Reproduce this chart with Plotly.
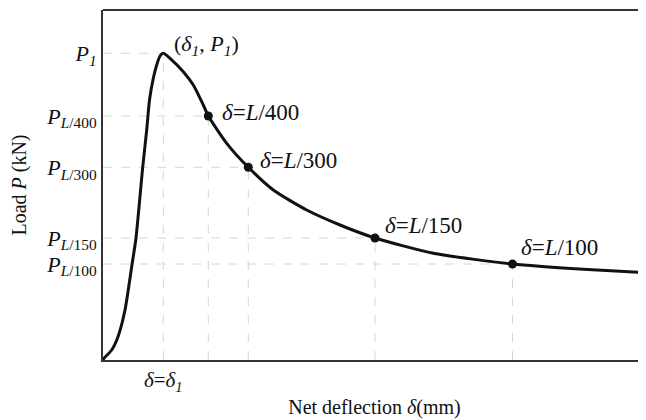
import plotly.graph_objects as go

# Load-deflection curve (schematic), deflection in mm, load in kN
curve_delta = [0, 0.1, 0.87, 1.5, 2.2, 2.87, 3.3, 3.97, 4.37, 4.65, 5.03, 5.37, 5.7, 6.03,
               6.7, 8.03, 9.03, 10.03, 10.53, 12.37, 14.53, 17.03, 20.37, 23.7, 27.2,
               33.03, 40.95, 48.03, 54.3]
curve_P = [0, 0.17, 1.0, 2.33, 5.0, 9.33, 12.2, 19.27, 23.0, 26.0, 28.17, 29.5, 30.4, 30.67,
           30.17, 28.83, 27.5, 25.5, 24.4, 21.67, 19.27, 17.0, 15.0, 13.5, 12.2,
           10.67, 9.6, 9.07, 8.73]

# Peak
delta_1 = 6.03
P_1 = 30.67

# Serviceability points
point_names = ["L/400", "L/300", "L/150", "L/100"]
point_delta = [10.53, 14.53, 27.2, 40.95]
point_P = [24.4, 19.27, 12.2, 9.6]

x_max = 54.3
y_max = 35.0

SERIF = "Liberation Serif"
grid_col = "#d6d6d6"
ink = "#111111"

fig = go.Figure()

# dashed guide lines
for d, p in zip([delta_1] + point_delta, [P_1] + point_P):
    fig.add_trace(go.Scatter(x=[0, d], y=[p, p], mode="lines",
                             line=dict(color=grid_col, width=1, dash="dash"),
                             hoverinfo="skip", showlegend=False))
    fig.add_trace(go.Scatter(x=[d, d], y=[0, p], mode="lines",
                             line=dict(color=grid_col, width=1, dash="dash"),
                             hoverinfo="skip", showlegend=False))

# main curve
fig.add_trace(go.Scatter(x=curve_delta, y=curve_P, mode="lines",
                         line=dict(color=ink, width=3, shape="spline", smoothing=0.6),
                         showlegend=False))

# markers
fig.add_trace(go.Scatter(x=point_delta, y=point_P, mode="markers",
                         marker=dict(color=ink, size=9),
                         showlegend=False))

# annotations
fig.add_annotation(x=6.9, y=31.5, xanchor="left", yanchor="middle", showarrow=False,
                   text="(<i>δ</i><sub><i>1</i></sub>, <i>P</i><sub><i>1</i></sub>)",
                   font=dict(family=SERIF, size=22, color=ink))
label_x = [11.7, 15.5, 28.0, 41.6]
label_y = [24.75, 19.95, 13.5, 11.3]
for name, lx, ly in zip(point_names, label_x, label_y):
    L, rest = name.split("/")
    fig.add_annotation(x=lx, y=ly, xanchor="left", yanchor="middle", showarrow=False,
                       text=f"<i>δ</i>=<i>{L}</i>/{rest}",
                       font=dict(family=SERIF, size=23, color=ink))

# top frame line
fig.add_shape(type="line", xref="paper", yref="paper", x0=0, x1=1, y0=1, y1=1,
              line=dict(color="#333333", width=2))

ytick_vals = [P_1] + point_P
ytick_text = ["<i>P</i><sub><i>1</i></sub>"] + [
    f"<i>P</i><sub><i>{n.split('/')[0]}</i>/{n.split('/')[1]}</sub>" for n in point_names]

fig.update_layout(
    width=638, height=412,
    margin=dict(l=95, r=0, t=2, b=60),
    paper_bgcolor="white", plot_bgcolor="white",
    font=dict(family=SERIF, size=20, color=ink),
    xaxis=dict(range=[0, x_max], showgrid=False, zeroline=False,
               showline=True, linecolor="#333333", linewidth=2,
               tickvals=[delta_1], ticktext=["<i>δ</i>=<i>δ</i><sub><i>1</i></sub>"],
               ticks="", tickfont=dict(family=SERIF, size=21, color=ink),
               title=dict(text="Net deflection <i>δ</i>(mm)", standoff=6,
                          font=dict(family=SERIF, size=20, color=ink))),
    yaxis=dict(range=[0, y_max], showgrid=False, zeroline=False,
               showline=True, linecolor="#333333", linewidth=2,
               tickvals=ytick_vals, ticktext=ytick_text,
               ticks="", tickfont=dict(family=SERIF, size=22, color=ink),
               title=dict(text="Load <i>P</i> (kN)", standoff=18,
                          font=dict(family=SERIF, size=20, color=ink))),
)

fig.write_html("out.html")
